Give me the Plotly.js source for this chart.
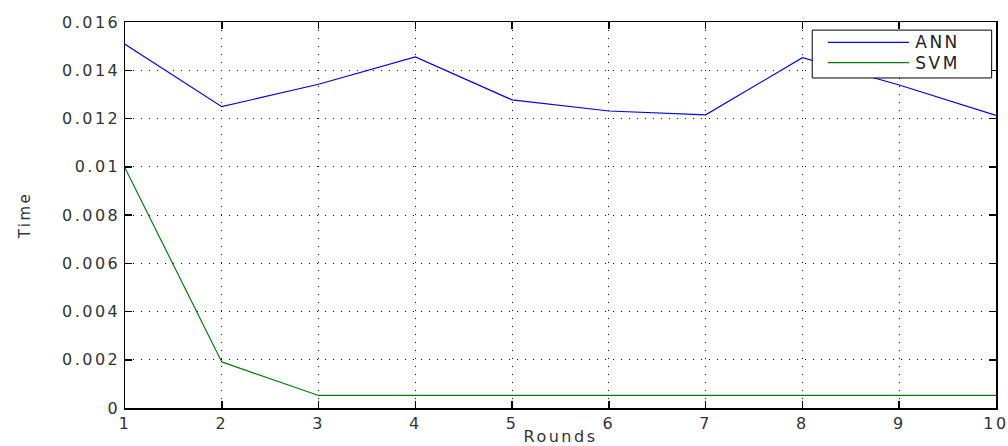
<!DOCTYPE html>
<html>
<head>
<meta charset="utf-8">
<script src="https://cdn.plot.ly/plotly-3.0.1.min.js"></script>
<style>
html,body{margin:0;padding:0;background:#fff;}
#chart{width:1008px;height:446px;}
#chart text{letter-spacing:2.5px;}
</style>
</head>
<body>
<div id="chart"></div>
<script>
const rounds = [1, 2, 3, 4, 5, 6, 7, 8, 9, 10];
const annTime = [0.01508, 0.01249, 0.01342, 0.01455, 0.01277, 0.01231, 0.01215, 0.01452, 0.01339, 0.01213];
const svmTime = [0.00995, 0.00191, 0.00052, 0.00052, 0.00052, 0.00052, 0.00052, 0.00052, 0.00052, 0.00052];
const seriesNames = ['ANN', 'SVM'];
const seriesColors = ['#0000ff', '#008000'];
const yTicks = [0, 0.002, 0.004, 0.006, 0.008, 0.01, 0.012, 0.014, 0.016];
const yTickText = ['0', '0.002', '0.004', '0.006', '0.008', '0.01', '0.012', '0.014', '0.016'];

const font = {family: 'DejaVu Sans, Arial, sans-serif', size: 16, color: '#333'};

const traces = [annTime, svmTime].map((ys, i) => ({
  x: rounds, y: ys, type: 'scatter', mode: 'lines', name: seriesNames[i],
  line: {color: seriesColors[i], width: 1.2}, showlegend: false
}));

// custom legend box (paper coordinates)
const lx0 = 0.789, lx1 = 0.995, ly0 = 0.855, ly1 = 0.979;
const rowY = [0.947, 0.895];
const shapes = [{type: 'rect', xref: 'paper', yref: 'paper', x0: lx0, x1: lx1, y0: ly0, y1: ly1,
  line: {color: '#000', width: 1}, fillcolor: '#fff', layer: 'above'}];
const annotations = [];
seriesNames.forEach((n, i) => {
  shapes.push({type: 'line', xref: 'paper', yref: 'paper', x0: 0.807, x1: 0.900, y0: rowY[i], y1: rowY[i],
    line: {color: seriesColors[i], width: 1.2}, layer: 'above'});
  annotations.push({xref: 'paper', yref: 'paper', x: 0.909, y: rowY[i], xanchor: 'left', yanchor: 'middle',
    text: n, showarrow: false, font: {family: font.family, size: 17, color: '#222'}});
});

const axisCommon = {
  showline: true, linecolor: '#000', linewidth: 1.5, mirror: 'ticks',
  ticks: 'inside', ticklen: 7, tickcolor: '#000', tickwidth: 1.5,
  showgrid: true, gridcolor: '#000', gridwidth: 1, griddash: '1px,7px',
  zeroline: false, tickfont: font
};

const layout = {
  width: 1008, height: 446,
  margin: {l: 125, r: 12, t: 22, b: 38},
  paper_bgcolor: '#fff', plot_bgcolor: '#fff',
  font: font,
  xaxis: Object.assign({}, axisCommon, {
    range: [1, 10], tickmode: 'array', tickvals: rounds, ticktext: rounds.map(String),
    title: {text: 'Rounds', font: {family: font.family, size: 16, color: '#333'}, standoff: 6}
  }),
  yaxis: Object.assign({}, axisCommon, {
    range: [0, 0.016], tickmode: 'array', tickvals: yTicks, ticktext: yTickText,
    title: {text: 'Time', font: {family: font.family, size: 15, color: '#333'}, standoff: 40}
  }),
  shapes: shapes,
  annotations: annotations,
  showlegend: false
};

Plotly.newPlot('chart', traces, layout, {displayModeBar: false, staticPlot: true});
</script>
</body>
</html>
